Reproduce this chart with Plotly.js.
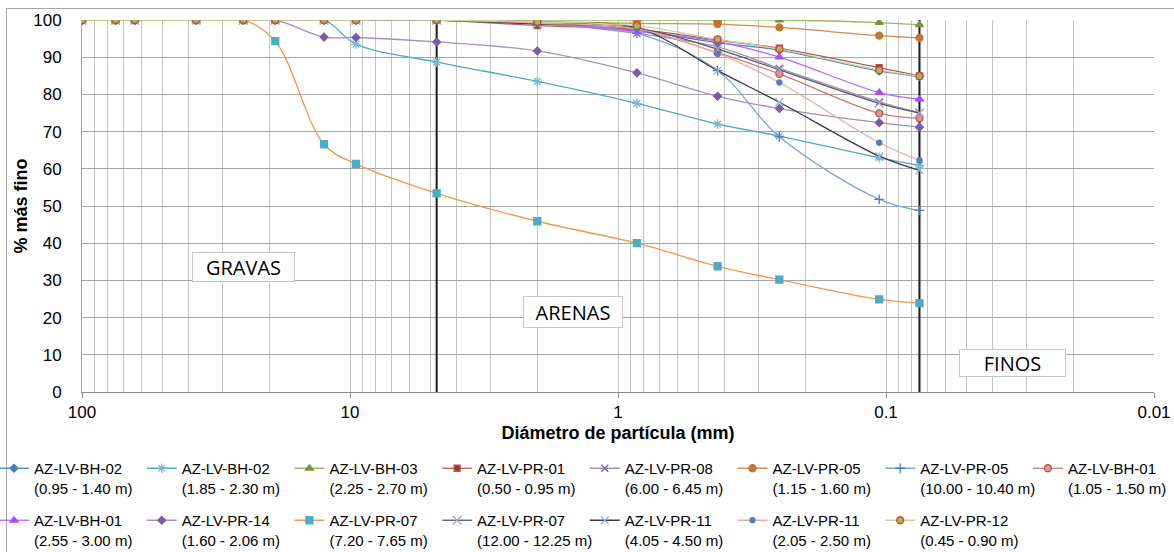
<!DOCTYPE html>
<html><head><meta charset="utf-8">
<script src="https://cdn.plot.ly/plotly-3.0.1.min.js"></script>
<style>html,body{margin:0;padding:0;background:#fff}#chart{width:1174px;height:552px}</style>
</head><body><div id="chart"></div>
<script>
// ---- DATA ----
const sieves = [100, 75, 63.5, 37.5, 25, 19, 12.5, 9.5, 4.75, 2.0, 0.85, 0.425, 0.25, 0.106, 0.075];
const sampleNames = ["AZ-LV-BH-02","AZ-LV-BH-02","AZ-LV-BH-03","AZ-LV-PR-01","AZ-LV-PR-08","AZ-LV-PR-05","AZ-LV-PR-05","AZ-LV-BH-01",
                     "AZ-LV-BH-01","AZ-LV-PR-14","AZ-LV-PR-07","AZ-LV-PR-07","AZ-LV-PR-11","AZ-LV-PR-11","AZ-LV-PR-12"];
const depths = ["(0.95 - 1.40 m)","(1.85 - 2.30 m)","(2.25 - 2.70 m)","(0.50 - 0.95 m)","(6.00 - 6.45 m)","(1.15 - 1.60 m)","(10.00 - 10.40 m)","(1.05 - 1.50 m)",
                "(2.55 - 3.00 m)","(1.60 - 2.06 m)","(7.20 - 7.65 m)","(12.00 - 12.25 m)","(4.05 - 4.50 m)","(2.05 - 2.50 m)","(0.45 - 0.90 m)"];
const bh02a = [100,100,100,100,100,100,100,100,100, 99.0, 97.2, 93.9, 91.9, 86.3, 84.8];
const bh02b = [100,100,100,100,100,100,100, 93.5, 88.7, 83.5, 77.6, 72.0, 68.8, 63.0, 60.9];
const bh03  = [100,100,100,100,100,100,100,100,100,100,100,100,100, 99.3, 98.7];
const pr01  = [100,100,100,100,100,100,100,100,100, 98.5, 97.5, 94.6, 92.4, 87.2, 85.0];
const pr08  = [100,100,100,100,100,100,100,100,100, 99.2, 96.4, 92.8, 87.0, 78.0, 75.1];
const pr05a = [100,100,100,100,100,100,100,100,100, 99.6, 99.1, 98.9, 98.0, 95.8, 95.2];
const pr05b = [100,100,100,100,100,100,100,100,100, 99.3, 96.4, 86.4, 68.6, 51.8, 48.8];
const bh01a = [100,100,100,100,100,100,100,100,100, 99.3, 97.5, 91.2, 85.5, 74.9, 73.6];
const bh01b = [100,100,100,100,100,100,100,100,100, 99.2, 96.9, 94.2, 90.0, 80.5, 78.7];
const pr14  = [100,100,100,100,100,100, 95.4, 95.3, 94.1, 91.7, 85.8, 79.5, 76.2, 72.4, 71.2];
const pr07a = [100,100,100,100,100, 94.3, 66.6, 61.3, 53.4, 45.9, 40.0, 33.8, 30.2, 24.9, 23.9];
const pr07b = [100,100,100,100,100,100,100,100,100, 99.0, 97.8, 92.2, 86.6, 77.6, 75.0];
const pr11a = [100,100,100,100,100,100,100,100,100, 99.0, 97.9, 86.4, 77.9, 63.4, 59.6];
const pr11b = [100,100,100,100,100,100,100,100,100, 99.2, 97.6, 91.0, 83.2, 67.0, 62.3];
const pr12  = [100,100,100,100,100,100,100,100,100, 99.5, 98.4, 94.8, 92.2, 86.5, 84.9];
const seriesValues = [bh02a, bh02b, bh03, pr01, pr08, pr05a, pr05b, bh01a, bh01b, pr14, pr07a, pr07b, pr11a, pr11b, pr12];
const boundaries = [4.75, 0.075];       // limits gravas/arenas and arenas/finos (mm)
const boundarySpan = [0, 100];
const zoneLabels = ["GRAVAS", "ARENAS", "FINOS"];
const xTickVals = [100, 10, 1, 0.1, 0.01];
const xTickText = ["100", "10", "1", "0.1", "0.01"];

// ---- STYLES ----
const styles = [
  {line:"#4A7EBB", sym:"diamond",         mc:"#4A7EBB", ml:"#4A7EBB", size:6},
  {line:"#4BACC6", sym:"asterisk-open",   mc:"#7FB2CC", ml:"#7FB2CC", size:8},
  {line:"#9BBB59", sym:"triangle-up",     mc:"#77933C", ml:"#77933C", size:7},
  {line:"#B65A58", sym:"square",          mc:"#953735", ml:"#C0504D", size:6},
  {line:"#9F8FC0", sym:"x-thin-open",     mc:"#8064A2", ml:"#8064A2", size:7},
  {line:"#D38B4F", sym:"circle",          mc:"#C6742F", ml:"#C6742F", size:7},
  {line:"#7DA4D6", sym:"cross-thin-open", mc:"#4A7EBB", ml:"#4A7EBB", size:7},
  {line:"#D37570", sym:"circle",          mc:"#D99694", ml:"#C0504D", size:7},
  {line:"#B366FF", sym:"triangle-up",     mc:"#A64DFF", ml:"#A64DFF", size:7},
  {line:"#A68DC8", sym:"diamond",         mc:"#7B5BA5", ml:"#7B5BA5", size:6},
  {line:"#F79646", sym:"square",          mc:"#4BACC6", ml:"#4BACC6", size:7},
  {line:"#595959", sym:"x-thin-open",     mc:"#B3A2C7", ml:"#B3A2C7", size:9},
  {line:"#3A3A3A", sym:"x-thin-open",     mc:"#95B3D7", ml:"#95B3D7", size:8},
  {line:"#E8A9A7", sym:"circle",          mc:"#4F81BD", ml:"#4F81BD", size:5},
  {line:"#C3D69B", sym:"circle",          mc:"#9BBB59", ml:"#E03C31", size:7}
];

const W = 1174, H = 552;
const M = {l:82, r:20, t:20, b:160};
const PW = W - M.l - M.r, PH = H - M.t - M.b;
const px2paperX = px => (px - M.l) / PW;
const px2paperY = py => (H - M.b - py) / PH;

const traces = [];
boundaries.forEach(b => traces.push({
  x:[b, b], y:boundarySpan, mode:"lines", type:"scatter",
  line:{color:"#1a1a1a", width:2}, showlegend:false, hoverinfo:"skip"
}));

const layout = {
  width:W, height:H, margin:{l:M.l, r:M.r, t:M.t, b:M.b, autoexpand:false},
  paper_bgcolor:"#fff", plot_bgcolor:"#fff",
  font:{family:"Liberation Sans, Arial, sans-serif", color:"#000"},
  xaxis:{type:"log", range:[2,-2], tickmode:"array", tickvals:xTickVals, ticktext:xTickText,
         showgrid:true, gridcolor:"#c4c4c4", gridwidth:1,
         minor:{dtick:"D1", showgrid:true, gridcolor:"#c4c4c4", gridwidth:1, ticks:""},
         showline:true, linecolor:"#8c8c8c", ticks:"outside", ticklen:5, tickcolor:"#8c8c8c",
         tickfont:{size:17}, zeroline:false,
         title:{text:"<b>Diámetro de partícula (mm)</b>", font:{size:18}, standoff:4}},
  yaxis:{range:[0,100], dtick:10, showgrid:true, gridcolor:"#a6a6a6", gridwidth:1,
         showline:true, linecolor:"#a6a6a6", ticks:"", ticklabelstandoff:16, zeroline:false,
         tickfont:{size:17},
         title:{text:"<b>% más fino</b>", font:{size:18}, standoff:0}},
  annotations:[], shapes:[], showlegend:true
};

// zone label boxes
const zoneBoxes = [
  {cx:243.5, cy:267, w:101, h:28},
  {cx:573,   cy:312, w:98,  h:30},
  {cx:1012.5,cy:363, w:105, h:26}
];
zoneLabels.forEach((t,i) => {
  const b = zoneBoxes[i];
  layout.annotations.push({text:t, xref:"paper", yref:"paper", x:px2paperX(b.cx), y:px2paperY(b.cy),
    xanchor:"center", yanchor:"middle", showarrow:false, width:b.w, height:b.h, borderpad:0,
    bgcolor:"#fff", bordercolor:"#c8c8c8", borderwidth:1,
    font:{family:"Open Sans, Noto Sans, sans-serif", size:20, color:"#000"}});
});

// chart frame (top and left edges)
layout.shapes.push({type:"line", xref:"paper", yref:"paper", x0:px2paperX(6.5), x1:px2paperX(1180), y0:px2paperY(8.5), y1:px2paperY(8.5), line:{color:"#a6a6a6", width:1}});
layout.shapes.push({type:"line", xref:"paper", yref:"paper", x0:px2paperX(6.5), x1:px2paperX(6.5), y0:px2paperY(8.5), y1:px2paperY(560), line:{color:"#a6a6a6", width:1}});

// series + one legend per entry for exact placement
const colX0 = 34, colStep = 147.7, rowY = [452, 504];
seriesValues.forEach((vals, i) => {
  const s = styles[i];
  const lg = i === 0 ? "legend" : "legend" + (i + 1);
  traces.push({
    x:sieves, y:vals, type:"scatter", mode:"lines+markers",
    name:sampleNames[i] + "<br>" + depths[i], legend:lg,
    line:{color:s.line, width:1.3, shape:"spline", smoothing:1},
    marker:{symbol:s.sym, size:s.size, color:s.mc, line:{color:s.ml, width:1.3}}
  });
  const row = i < 8 ? 0 : 1, col = i < 8 ? i : i - 8;
  layout[lg] = {x:px2paperX(colX0 + col*colStep - 40), y:px2paperY(rowY[row]), xanchor:"left", yanchor:"top",
    orientation:"v", bgcolor:"rgba(0,0,0,0)", borderwidth:0, valign:"top",
    font:{size:15, family:"Liberation Sans, Arial, sans-serif", color:"#000"}};
});

Plotly.newPlot("chart", traces, layout, {displayModeBar:false, staticPlot:true});
</script></body></html>
